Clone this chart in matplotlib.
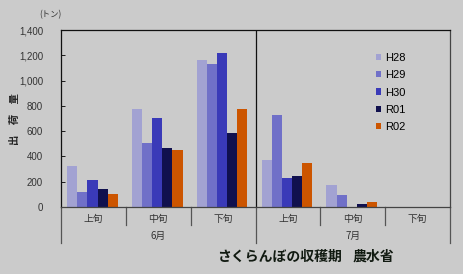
import matplotlib
matplotlib.use('Agg')
import matplotlib.pyplot as plt
import numpy as np

plt.rcParams['font.family'] = ['Liberation Sans', 'Noto Sans CJK JP']

# data (tons)
periods = ['上旬', '中旬', '下旬', '上旬', '中旬', '下旬']
months = ['6月', '7月']
series = ['H28', 'H29', 'H30', 'R01', 'R02']
h28 = [322, 779, 1166, 370, 177, 0]
h29 = [119, 507, 1132, 731, 95, 0]
h30 = [211, 705, 1219, 230, 0, 0]
r01 = [140, 470, 589, 248, 27, 0]
r02 = [106, 454, 773, 348, 40, 0]
colors = ['#a2a2d2', '#7070c8', '#3a3ab8', '#10104e', '#cc5500']

bg = '#cbcbcb'
fig = plt.figure(figsize=(4.63, 2.74), dpi=100, facecolor=bg)
ax = fig.add_axes([0.1318, 0.2445, 0.8401, 0.646], facecolor=bg)

x = np.arange(len(periods))
w = 0.156
for i, (vals, c, name) in enumerate(zip([h28, h29, h30, r01, r02], colors, series)):
    ax.bar(x + (i - 2) * w - 0.015, vals, w, color=c, label=name, linewidth=0)

ax.set_xlim(-0.5, 5.5)
ax.set_ylim(0, 1400)
ax.set_yticks(range(0, 1401, 200))
ax.set_yticklabels(['{:,}'.format(v) for v in range(0, 1401, 200)], fontsize=7, color='#333333')
ax.tick_params(axis='y', direction='in', length=3, width=0.6, pad=13)
ax.set_xticks([])

for s in ['left', 'top', 'right', 'bottom']:
    ax.spines[s].set_color('#111111')
    ax.spines[s].set_linewidth(0.9)
ax.spines['right'].set_color('#444444')
ax.spines['bottom'].set_color('#444444')

# month divider inside plot
ax.axvline(2.5, color='#111111', lw=0.9)

# category separators below axis
tr = ax.get_xaxis_transform()
for b in np.arange(-0.5, 5.6, 1.0):
    long = b in (-0.5, 2.5, 5.5)
    y1 = -0.205 if long else -0.1
    ax.plot([b, b], [0, y1], color='#555555', lw=0.9, transform=tr, clip_on=False)
for i, p in enumerate(periods):
    ax.text(i, -0.07, p, transform=tr, ha='center', va='center', fontsize=7,
            color='#333333', family=['Noto Sans CJK JP'])
for j, m in enumerate(months):
    ax.text(1 + 3 * j, -0.165, m, transform=tr, ha='center', va='center', fontsize=7,
            color='#333333', family=['Noto Sans CJK JP'])

leg = ax.legend(loc='upper left', bbox_to_anchor=(0.795, 0.902), frameon=False,
                fontsize=8, handlelength=0.5, handleheight=0.5, handletextpad=0.3,
                labelspacing=0.66, borderpad=0)

fig.text(0.108, 0.945, '(トン)', fontsize=6, ha='center', va='center', color='#333333',
         family=['Noto Sans CJK JP'])
fig.text(0.033, 0.565, '出　荷　量', rotation=90, fontsize=7.5, ha='center', va='center',
         color='#222222', fontweight='bold', family=['Noto Sans CJK JP'])
fig.text(0.468, 0.063, 'さくらんぼの収穫期', fontsize=10, ha='left', va='center',
         color='#111a11', fontweight='bold', family=['Noto Sans CJK JP'])
fig.text(0.762, 0.063, '農水省', fontsize=10, ha='left', va='center',
         color='#111a11', fontweight='bold', family=['Noto Sans CJK JP'])

fig.savefig('out.png', dpi=100, facecolor=bg)
